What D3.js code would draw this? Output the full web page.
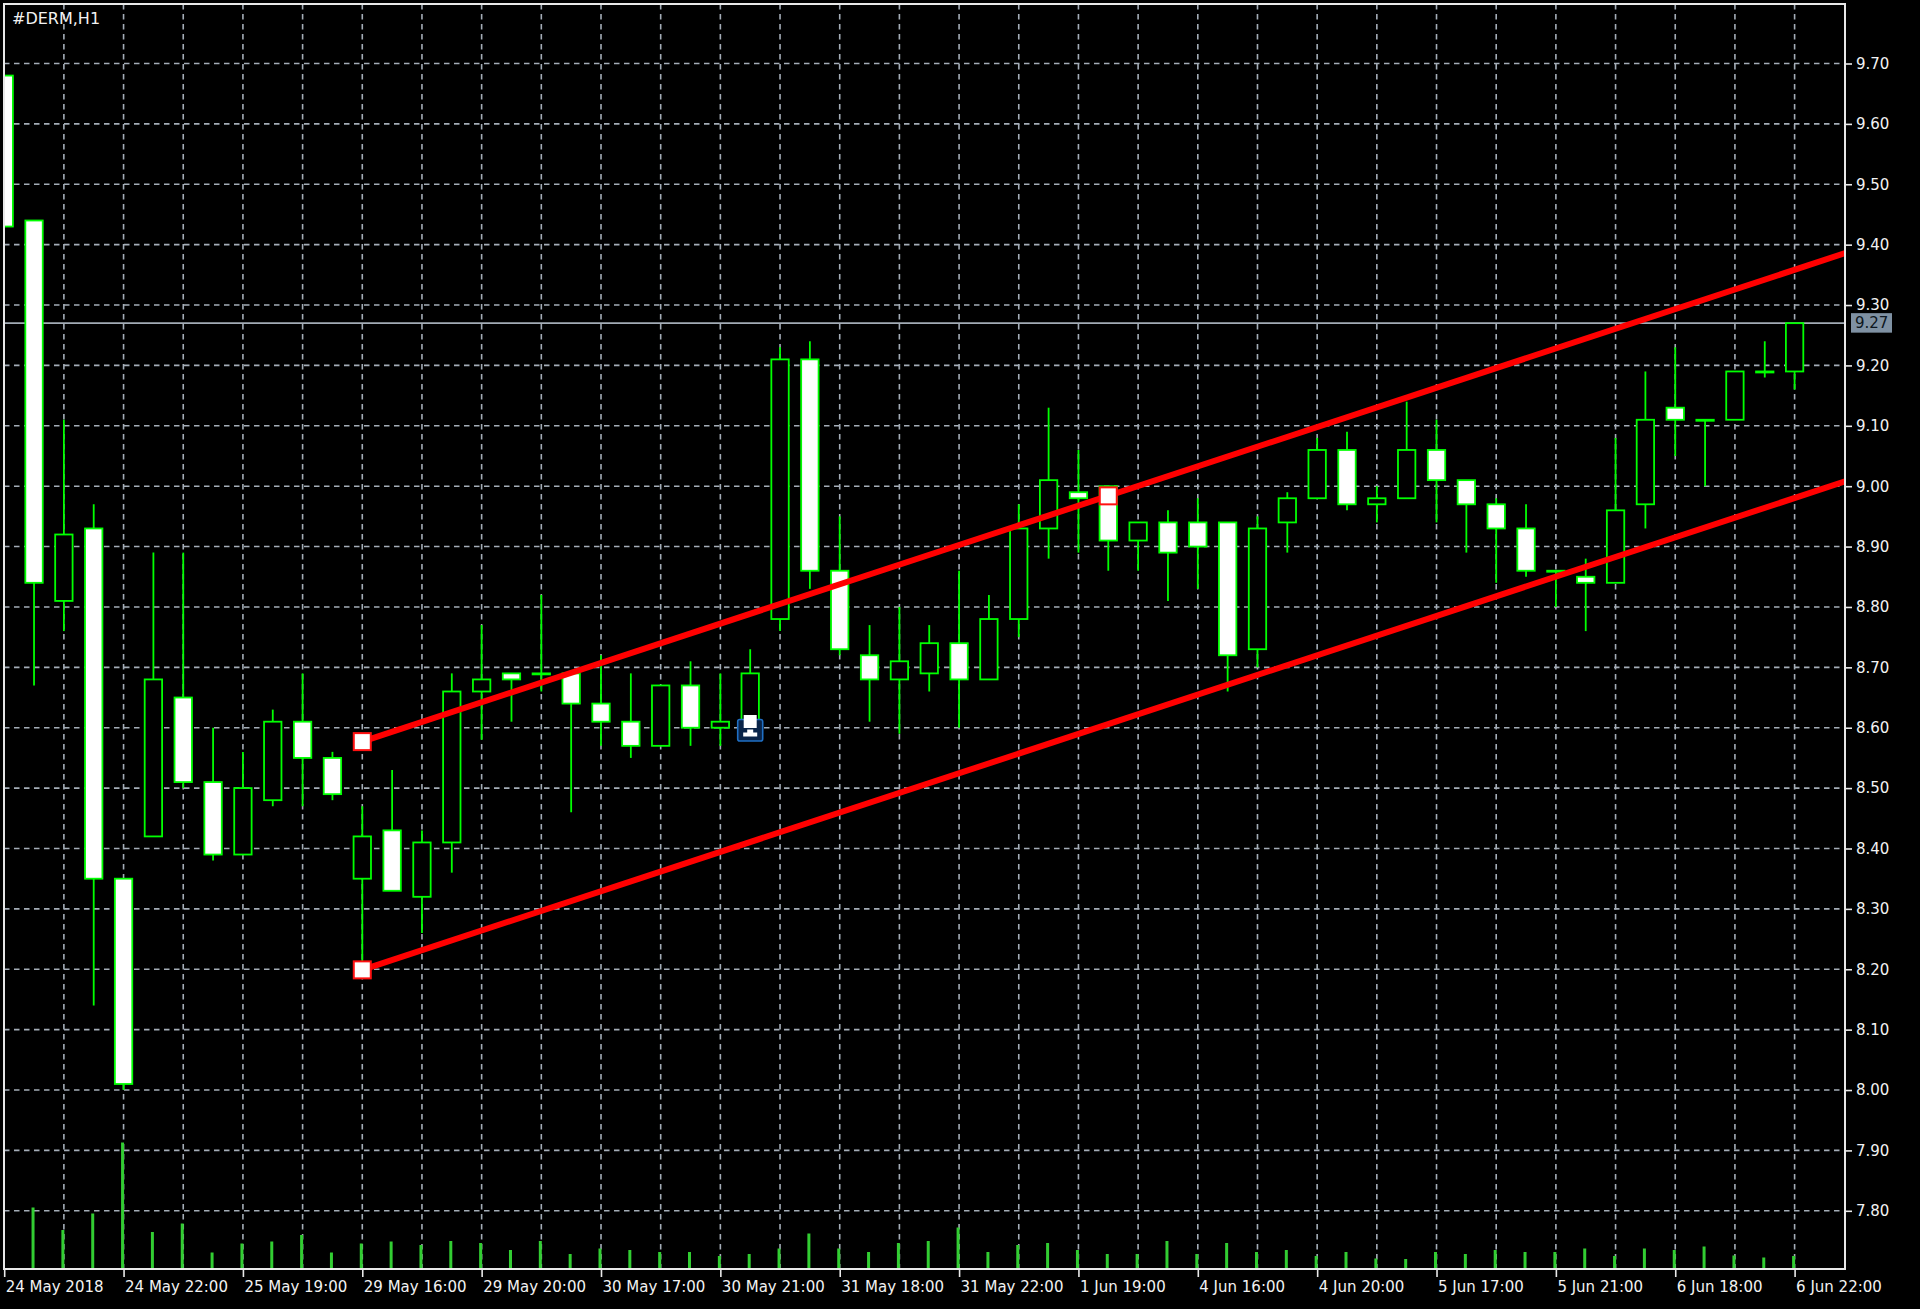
<!DOCTYPE html>
<html lang="en">
<head>
<meta charset="UTF-8">
<title>#DERM,H1</title>
<style>
  body { margin: 0; background: #000; }
  svg { display: block; }
  .lbl { font-family: "DejaVu Sans", Tahoma, sans-serif; font-size: 15px; fill: #f2f2f2; }
  .grid line { stroke: #a4adb7; stroke-width: 1.6; stroke-dasharray: 5.5 4.5; }
</style>
<script src="https://cdnjs.cloudflare.com/ajax/libs/d3/7.8.5/d3.min.js"></script>
</head>
<body>
<div id="chart"></div>
<script>
// bar labels on the time axis (every 4th H1 bar)
var timeLabels = ["24 May 2018", "24 May 22:00", "25 May 19:00", "29 May 16:00", "29 May 20:00",
  "30 May 17:00", "30 May 21:00", "31 May 18:00", "31 May 22:00", "1 Jun 19:00",
  "4 Jun 16:00", "4 Jun 20:00", "5 Jun 17:00", "5 Jun 21:00", "6 Jun 18:00", "6 Jun 22:00"];
var labelIdx = [0, 4, 8, 12, 16, 20, 24, 28, 32, 36, 40, 44, 48, 52, 56, 60];

var priceTicks = [7.80, 7.90, 8.00, 8.10, 8.20, 8.30, 8.40, 8.50, 8.60, 8.70,
  8.80, 8.90, 9.00, 9.10, 9.20, 9.30, 9.40, 9.50, 9.60, 9.70];

// OHLC, one entry per hour bar
var open  = [9.68, 9.44, 8.81, 8.93, 8.35, 8.42, 8.65, 8.51, 8.39, 8.48,
  8.61, 8.55, 8.35, 8.43, 8.32, 8.41, 8.66, 8.69, 8.69, 8.69,
  8.64, 8.61, 8.57, 8.67, 8.60, 8.61, 8.78, 9.21, 8.86, 8.72,
  8.68, 8.69, 8.74, 8.68, 8.78, 8.93, 8.99, 9.00, 8.91, 8.94,
  8.94, 8.94, 8.73, 8.94, 8.98, 9.06, 8.97, 8.98, 9.06, 9.01,
  8.97, 8.93, 8.86, 8.85, 8.84, 8.97, 9.13, 9.11, 9.11, 9.19, 9.19];
var high  = [9.68, 9.44, 9.11, 8.97, 8.35, 8.89, 8.89, 8.60, 8.56, 8.63,
  8.69, 8.56, 8.47, 8.53, 8.43, 8.69, 8.77, 8.69, 8.82, 8.69,
  8.72, 8.69, 8.67, 8.71, 8.69, 8.73, 9.23, 9.24, 8.95, 8.77,
  8.80, 8.77, 8.86, 8.82, 8.97, 9.13, 9.06, 9.00, 8.94, 8.96,
  8.98, 8.94, 8.95, 8.99, 9.08, 9.09, 9.00, 9.14, 9.11, 9.01,
  8.98, 8.97, 8.86, 8.88, 9.08, 9.19, 9.23, 9.11, 9.19, 9.24, 9.27];
var low   = [9.43, 8.67, 8.76, 8.14, 8.00, 8.42, 8.50, 8.38, 8.39, 8.47,
  8.47, 8.48, 8.19, 8.33, 8.26, 8.36, 8.58, 8.61, 8.66, 8.46,
  8.57, 8.55, 8.57, 8.57, 8.57, 8.59, 8.76, 8.83, 8.72, 8.61,
  8.59, 8.66, 8.60, 8.68, 8.75, 8.88, 8.89, 8.86, 8.86, 8.81,
  8.83, 8.66, 8.70, 8.89, 8.98, 8.96, 8.94, 8.98, 8.94, 8.89,
  8.84, 8.85, 8.80, 8.76, 8.84, 8.93, 9.05, 9.00, 9.11, 9.18, 9.16];
var close = [9.43, 8.84, 8.92, 8.35, 8.01, 8.68, 8.51, 8.39, 8.50, 8.61,
  8.55, 8.49, 8.42, 8.33, 8.41, 8.66, 8.68, 8.68, 8.69, 8.64,
  8.61, 8.57, 8.67, 8.60, 8.61, 8.69, 9.21, 8.86, 8.73, 8.68,
  8.71, 8.74, 8.68, 8.78, 8.93, 9.01, 8.98, 8.91, 8.94, 8.89,
  8.90, 8.72, 8.93, 8.98, 9.06, 8.97, 8.98, 9.06, 9.01, 8.97,
  8.93, 8.86, 8.86, 8.84, 8.96, 9.11, 9.11, 9.11, 9.19, 9.19, 9.27];
// tick volume
var volume = [60, 123, 78, 111, 253, 74, 91, 33, 51, 55,
  68, 33, 51, 55, 48, 56, 52, 38, 56, 30,
  41, 38, 34, 34, 26, 30, 41, 71, 41, 34,
  52, 56, 83, 34, 48, 52, 38, 30, 30, 56,
  30, 52, 34, 38, 26, 34, 21, 20, 34, 30,
  38, 34, 34, 41, 26, 41, 38, 45, 27, 23, 26];

var bidPrice = 9.27;
// equidistant channel anchors [bar, price]
var chanA = [12, 8.577], chanB = [37, 8.984], chanC = [12, 8.199];
// chart object sitting on bar 25
var marker = [25, 8.607];

var W = 1920, H = 1309;
var plot = { left: 4, top: 4, right: 1845, bottom: 1269 };

var x = d3.scaleLinear().domain([0, 60]).range([4.2, 1794.6]);
var y = d3.scaleLinear().domain([7.80, 9.70]).range([1210.8, 63.5]);
var vol = d3.scaleLinear().domain([0, d3.max(volume)]).range([0, 126.5]);

var svg = d3.select("#chart").append("svg")
  .attr("width", W).attr("height", H)
  .style("background", "#000");

svg.append("clipPath").attr("id", "clip")
  .append("rect")
  .attr("x", plot.left).attr("y", plot.top)
  .attr("width", plot.right - plot.left).attr("height", plot.bottom - plot.top);

// grid
var grid = svg.append("g").attr("class", "grid");
grid.selectAll(".h").data(priceTicks).enter().append("line")
  .attr("x1", plot.left).attr("x2", plot.right)
  .attr("y1", function (d) { return y(d); })
  .attr("y2", function (d) { return y(d); });
grid.selectAll(".v").data(d3.range(2, 61, 2)).enter().append("line")
  .attr("x1", function (d) { return x(d); })
  .attr("x2", function (d) { return x(d); })
  .attr("y1", plot.top).attr("y2", plot.bottom);

var body = svg.append("g").attr("clip-path", "url(#clip)");

// bid line
body.append("line")
  .attr("x1", plot.left).attr("x2", plot.right)
  .attr("y1", y(bidPrice)).attr("y2", y(bidPrice))
  .attr("stroke", "#a3acb6").attr("stroke-width", 1.6);

// volumes
body.selectAll(".vol").data(volume).enter().append("line")
  .attr("x1", function (d, i) { return x(i) - 1; })
  .attr("x2", function (d, i) { return x(i) - 1; })
  .attr("y1", plot.bottom)
  .attr("y2", function (d) { return plot.bottom - vol(d); })
  .attr("stroke", "#32cd32").attr("stroke-width", 3);

// candles
var bars = d3.range(open.length);
body.selectAll(".wick").data(bars).enter().append("line")
  .attr("x1", function (i) { return x(i); })
  .attr("x2", function (i) { return x(i); })
  .attr("y1", function (i) { return y(high[i]); })
  .attr("y2", function (i) { return y(low[i]); })
  .attr("stroke", "#00ff00").attr("stroke-width", 1.8);

var bw = 17.4;
body.selectAll(".candle").data(bars).enter().append("rect")
  .attr("x", function (i) { return x(i) - bw / 2; })
  .attr("y", function (i) { return y(Math.max(open[i], close[i])); })
  .attr("width", bw)
  .attr("height", function (i) { return Math.max(1, Math.abs(y(open[i]) - y(close[i]))); })
  .attr("fill", function (i) { return close[i] < open[i] ? "#ffffff" : "#000000"; })
  .attr("stroke", "#00ff00").attr("stroke-width", 1.8);

// equidistant channel
var slope = (chanB[1] - chanA[1]) / (chanB[0] - chanA[0]);
var iEnd = x.invert(plot.right + 4);
var chan = [
  [chanA, [iEnd, chanA[1] + slope * (iEnd - chanA[0])]],
  [chanC, [iEnd, chanC[1] + slope * (iEnd - chanC[0])]]
];
body.selectAll(".chan").data(chan).enter().append("line")
  .attr("x1", function (d) { return x(d[0][0]); })
  .attr("y1", function (d) { return y(d[0][1]); })
  .attr("x2", function (d) { return x(d[1][0]); })
  .attr("y2", function (d) { return y(d[1][1]); })
  .attr("stroke", "#ff0000").attr("stroke-width", 6);

body.selectAll(".anchor").data([chanA, chanB, chanC]).enter().append("rect")
  .attr("x", function (d) { return x(d[0]) - 8.5; })
  .attr("y", function (d) { return y(d[1]) - 8.5; })
  .attr("width", 17).attr("height", 17)
  .attr("fill", "#ffffff").attr("stroke", "#ff1010").attr("stroke-width", 2);

// object marker
var mk = body.append("g").attr("transform", "translate(" + x(marker[0]) + "," + y(marker[1]) + ")");
mk.append("rect").attr("x", -12.5).attr("y", -4).attr("width", 25).attr("height", 21.5)
  .attr("rx", 2).attr("fill", "#0a2448").attr("stroke", "#1f6fc4").attr("stroke-width", 1.6);
mk.append("rect").attr("x", -6.5).attr("y", -8.5).attr("width", 13).attr("height", 13)
  .attr("fill", "#ffffff");
mk.append("path").attr("d", "M-3,6 H3 V9 H7 V13 H-7 V9 H-3 Z").attr("fill", "#ffffff");

// frame
svg.append("rect")
  .attr("x", plot.left).attr("y", plot.top)
  .attr("width", plot.right - plot.left).attr("height", plot.bottom - plot.top)
  .attr("fill", "none").attr("stroke", "#e8e8e8").attr("stroke-width", 2);

// price axis
var yAxis = d3.axisRight(y).tickValues(priceTicks).tickFormat(d3.format(".2f")).tickSize(7).tickPadding(4);
var ya = svg.append("g").attr("transform", "translate(" + plot.right + ",0)").call(yAxis);
ya.select(".domain").remove();
ya.selectAll("line").attr("stroke", "#e8e8e8").attr("stroke-width", 1.6);
ya.selectAll("text").attr("class", "lbl").attr("font-family", null).attr("font-size", null);

// bid label
var bl = svg.append("g").attr("transform", "translate(1851," + y(bidPrice) + ")");
bl.append("rect").attr("x", 0).attr("y", -10).attr("width", 41).attr("height", 19.5).attr("fill", "#7f91a3");
bl.append("text").attr("class", "lbl").attr("x", 4).attr("dy", "0.35em")
  .style("fill", "#0d1620").text(d3.format(".2f")(bidPrice));

// time axis
var xAxis = d3.axisBottom(x).tickValues(labelIdx)
  .tickFormat(function (d, i) { return timeLabels[i]; }).tickSize(8);
var xa = svg.append("g").attr("transform", "translate(0," + plot.bottom + ")").call(xAxis);
xa.select(".domain").remove();
xa.selectAll("line").attr("stroke", "#e8e8e8").attr("stroke-width", 1.6);
xa.selectAll("text").attr("class", "lbl").attr("font-family", null).attr("font-size", null)
  .attr("text-anchor", "start").attr("x", 1).attr("y", 23).attr("dy", null);

// symbol caption
svg.append("text").attr("class", "lbl").attr("x", 12).attr("y", 24)
  .style("font-size", "16px").text("#DERM,H1");
</script>
</body>
</html>
